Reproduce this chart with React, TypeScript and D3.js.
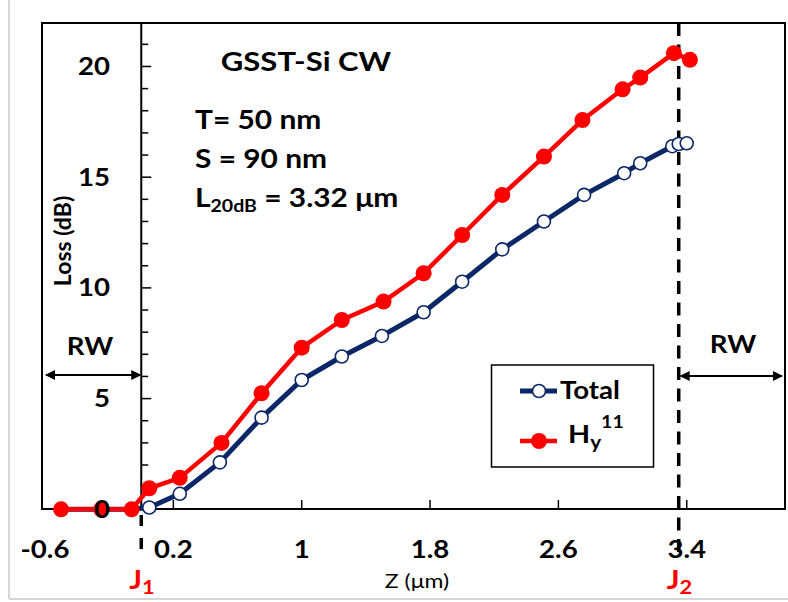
import React from 'react';
import * as d3 from 'd3';

// Total loss (open navy circles)
const totalZ = [-0.5, -0.25, -0.06, 0.05, 0.24, 0.49, 0.75, 1.0, 1.25, 1.5, 1.76, 2.0, 2.25, 2.51, 2.76, 3.01, 3.11, 3.31, 3.35, 3.4];
const totalLoss = [0, 0, 0, 0.08, 0.7, 2.12, 4.14, 5.84, 6.9, 7.83, 8.9, 10.28, 11.74, 13.0, 14.2, 15.18, 15.63, 16.4, 16.5, 16.53];

// Hy11 mode loss (filled red circles)
const hyZ = [-0.5, -0.25, -0.06, 0.05, 0.24, 0.5, 0.75, 1.0, 1.25, 1.51, 1.76, 2.0, 2.25, 2.51, 2.75, 3.0, 3.11, 3.32, 3.42];
const hyLoss = [0, 0, 0, 0.95, 1.42, 3.0, 5.24, 7.3, 8.55, 9.38, 10.66, 12.39, 14.2, 15.93, 17.58, 18.97, 19.5, 20.6, 20.3];

const xTicks = [-0.6, 0.2, 1, 1.8, 2.6, 3.4];
const yTicks = [0, 5, 10, 15, 20];
const yMinor = d3.range(1, 22);
const junctions = [0, 3.35];

const NAVY = '#0b2767';
const RED = '#ff0000';
const FONT = 'Lato, "Open Sans", sans-serif';
const SX = 1.15; // the source picture is a bit wider than tall

const W = 788, H = 602;
const plot = { left: 42, right: 785, top: 23, bottom: 509 };

// bold text, stretched sideways like the original
const T = ({ x, y, size, anchor = 'start', fill = '#000', weight = 700, children }: any) => (
  <text transform={`translate(${x},${y}) scale(${SX},1)`} textAnchor={anchor} fill={fill}
    fontFamily={FONT} fontWeight={weight} fontSize={size}>{children}</text>
);

const App = () => {
  const x = d3.scaleLinear().domain([-0.6, 4.0]).range([45, 783]);
  const y = d3.scaleLinear().domain([0, 22]).range([509.3, 22.2]);
  const x0 = x(0);

  const line = d3.line<[number, number]>().x(d => x(d[0])).y(d => y(d[1]));
  const totalPts = totalZ.map((z, i) => [z, totalLoss[i]] as [number, number]);
  const hyPts = hyZ.map((z, i) => [z, hyLoss[i]] as [number, number]);

  const j2 = x(junctions[1]);

  return (
    <svg width={W} height={H} style={{ position: 'absolute', left: 0, top: 0, background: '#fff' }}>
      <defs>
        <marker id="ah" viewBox="0 0 10 10" refX="9" refY="5" markerWidth="5" markerHeight="5" orient="auto-start-reverse">
          <path d="M0,0 L10,5 L0,10 z" fill="#000" />
        </marker>
      </defs>
      {/* outer frame */}
      <line x1={9} y1={0} x2={9} y2={599} stroke="#c8c8c8" strokeWidth={1.5} />
      <line x1={9} y1={599} x2={788} y2={599} stroke="#c8c8c8" strokeWidth={1.5} />

      {/* plot box */}
      <rect x={plot.left} y={plot.top} width={plot.right - plot.left} height={plot.bottom - plot.top}
        fill="none" stroke="#000" strokeWidth={2} />

      {/* y axis at z = 0 */}
      <line x1={x0} y1={plot.top} x2={x0} y2={plot.bottom} stroke="#000" strokeWidth={2} />
      {yMinor.map(v => (
        <line key={'m' + v} x1={x0} x2={x0 + (v % 5 === 0 ? 10 : 7)} y1={y(v)} y2={y(v)} stroke="#000" strokeWidth={1.5} />
      ))}
      <text transform={`translate(71,241) rotate(-90)`} textAnchor="middle"
        fontFamily={FONT} fontWeight={700} fontSize={23}>Loss (dB)</text>

      {/* x ticks */}
      {xTicks.slice(1).map(v => (
        <line key={'xt' + v} x1={x(v)} x2={x(v)} y1={plot.bottom} y2={plot.bottom - 9} stroke="#000" strokeWidth={1.5} />
      ))}
      {xTicks.map(v => (
        <T key={'x' + v} x={x(v)} y={558} size={24} anchor="middle">{v}</T>
      ))}
      <T x={417} y={588} size={20} anchor="middle" weight={400}>Z (μm)</T>

      {/* junction lines */}
      <line x1={x0} x2={x0} y1={plot.bottom + 6} y2={552} stroke="#000" strokeWidth={3.5} strokeDasharray="11,12" />
      <line x1={j2} x2={j2} y1={plot.top} y2={552} stroke="#000" strokeWidth={3.5} strokeDasharray="13,8.5" />
      <T x={x0 - 12} y={589} size={26} fill={RED}>
        J<tspan fontSize={19} dy={5}>1</tspan>
      </T>
      <T x={j2 - 12} y={589} size={26} fill={RED}>
        J<tspan fontSize={19} dy={5}>2</tspan>
      </T>

      {/* RW regions */}
      <T x={90} y={355} size={24} anchor="middle">RW</T>
      <line x1={x0 - 1} y1={375} x2={46} y2={375} stroke="#000" strokeWidth={2} markerEnd="url(#ah)" markerStart="url(#ah)" />
      <T x={733} y={353} size={24} anchor="middle">RW</T>
      <line x1={j2 + 2} y1={376} x2={782} y2={376} stroke="#000" strokeWidth={2} markerEnd="url(#ah)" markerStart="url(#ah)" />

      {/* annotations */}
      <T x={306} y={71} size={27} anchor="middle">GSST-Si CW</T>
      <T x={195} y={129} size={26}>T= 50 nm</T>
      <T x={195} y={168} size={26}>S = 90 nm</T>
      <T x={195} y={207} size={26}>
        L<tspan fontSize={17} dy={5}>20dB</tspan><tspan dy={-5}> = 3.32 μm</tspan>
      </T>

      {/* Total series */}
      <path d={line(totalPts) || ''} fill="none" stroke={NAVY} strokeWidth={5} strokeLinejoin="round" />
      {totalPts.map((p, i) => (
        <circle key={'t' + i} cx={x(p[0])} cy={y(p[1])} r={6.5} fill="#fff" stroke={NAVY} strokeWidth={1.6} />
      ))}

      {/* Hy11 series */}
      <path d={line(hyPts) || ''} fill="none" stroke={RED} strokeWidth={4.5} strokeLinejoin="round" />
      {hyPts.map((p, i) => (
        <circle key={'h' + i} cx={x(p[0])} cy={y(p[1])} r={8} fill={RED} />
      ))}

      {/* y tick labels sit on top of the data */}
      {yTicks.map(v => (
        <T key={'y' + v} x={110} y={y(v) + 8.5} size={24} anchor="end">{v}</T>
      ))}

      {/* legend */}
      <rect x={491.5} y={365} width={162} height={102} fill="#fff" stroke="#000" strokeWidth={1.5} />
      <line x1={520} x2={557} y1={391} y2={391} stroke={NAVY} strokeWidth={5} />
      <circle cx={539} cy={391} r={6.5} fill="#fff" stroke={NAVY} strokeWidth={1.6} />
      <T x={560} y={399} size={24}>Total</T>
      <line x1={520} x2={557} y1={441} y2={441} stroke={RED} strokeWidth={4.5} />
      <circle cx={539} cy={441} r={8} fill={RED} />
      <T x={568} y={443} size={25}>
        H<tspan fontSize={18} dy={6}>y</tspan><tspan fontSize={17} dy={-21}>11</tspan>
      </T>
    </svg>
  );
};

export default App;
